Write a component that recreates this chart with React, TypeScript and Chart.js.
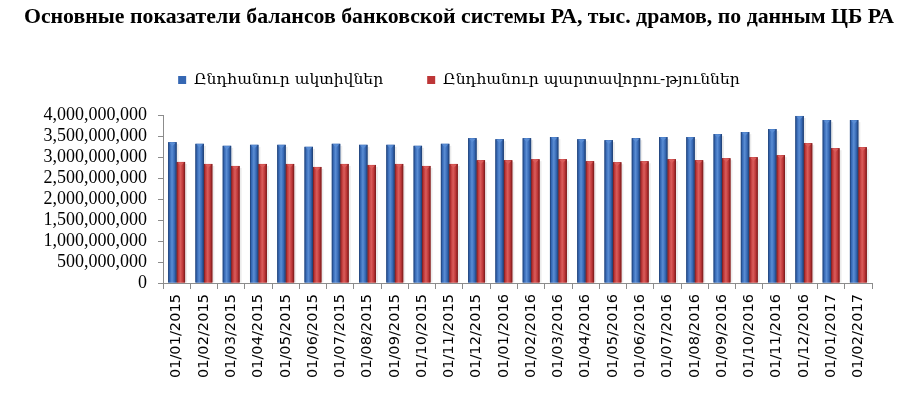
import React, { useEffect, useRef } from "react";
import { Chart, registerables } from "chart.js";

Chart.register(...registerables);

const categories = [
  "01/01/2015", "01/02/2015", "01/03/2015", "01/04/2015", "01/05/2015", "01/06/2015",
  "01/07/2015", "01/08/2015", "01/09/2015", "01/10/2015", "01/11/2015", "01/12/2015",
  "01/01/2016", "01/02/2016", "01/03/2016", "01/04/2016", "01/05/2016", "01/06/2016",
  "01/07/2016", "01/08/2016", "01/09/2016", "01/10/2016", "01/11/2016", "01/12/2016",
  "01/01/2017", "01/02/2017",
];

const totalAssets = [
  3369000000, 3328000000, 3280000000, 3304000000, 3304000000, 3256000000,
  3328000000, 3304000000, 3304000000, 3280000000, 3328000000, 3465000000,
  3440000000, 3465000000, 3489000000, 3440000000, 3417000000, 3465000000,
  3489000000, 3489000000, 3561000000, 3609000000, 3681000000, 3995000000,
  3897000000, 3897000000,
];

const totalLiabilities = [
  2896000000, 2848000000, 2800000000, 2848000000, 2848000000, 2776000000,
  2848000000, 2824000000, 2848000000, 2800000000, 2848000000, 2937000000,
  2937000000, 2961000000, 2961000000, 2913000000, 2889000000, 2913000000,
  2961000000, 2937000000, 2985000000, 3009000000, 3057000000, 3345000000,
  3225000000, 3249000000,
];

const seriesNames = ["Ընդհանուր ակտիվներ", "Ընդհանուր պարտավորու-թյուններ"];
const titleText = "Основные показатели балансов банковской системы РА, тыс. драмов, по данным ЦБ РА";
const yTicks = [0, 500000000, 1000000000, 1500000000, 2000000000, 2500000000, 3000000000, 3500000000, 4000000000];

const palettes = [
  { dark: "#1c3a6b", mid: "#3567b3", light: "#5a8dd4" },
  { dark: "#741818", mid: "#bd3637", light: "#da5d5b" },
];

const legendSpacing = {
  id: "legendSpacing",
  beforeInit(chart: any) {
    const legend = chart.legend;
    if (!legend) return;
    const fit = legend.fit;
    legend.fit = function () {
      fit.call(this);
      this.height = 87.6;
    };
  },
};

const barShading = {
  id: "barShading",
  afterDatasetsDraw(chart: any) {
    const ctx = chart.ctx;
    chart.data.datasets.forEach((_ds: any, di: number) => {
      const meta = chart.getDatasetMeta(di);
      const pal = palettes[di];
      meta.data.forEach((bar: any) => {
        const w = bar.width;
        const left = bar.x - w / 2;
        const top = bar.y;
        const bottom = bar.base;
        const g = ctx.createLinearGradient(left, 0, left + w, 0);
        g.addColorStop(0, pal.dark);
        g.addColorStop(0.18, pal.mid);
        g.addColorStop(0.45, pal.light);
        g.addColorStop(0.75, pal.mid);
        g.addColorStop(1, pal.dark);
        ctx.save();
        ctx.fillStyle = "rgba(0,0,0,0.08)";
        ctx.fillRect(left + w, top + 2, 2, bottom - top - 2);
        ctx.fillStyle = g;
        ctx.fillRect(left, top, w, bottom - top);
        ctx.fillStyle = pal.light;
        ctx.beginPath();
        ctx.moveTo(left + 1, top + 0.5);
        ctx.lineTo(left + w - 1, top + 0.5);
        ctx.lineTo(left + w / 2, top + 4);
        ctx.closePath();
        ctx.fill();
        ctx.restore();
      });
    });
  },
};

export default function App() {
  const canvasRef = useRef<HTMLCanvasElement | null>(null);

  useEffect(() => {
    if (!canvasRef.current) return;
    const chart = new Chart(canvasRef.current, {
      type: "bar",
      data: {
        labels: categories,
        datasets: [
          {
            label: seriesNames[0],
            data: totalAssets,
            backgroundColor: palettes[0].mid,
            borderWidth: 0,
            categoryPercentage: 0.62,
            barPercentage: 1.0,
          },
          {
            label: seriesNames[1],
            data: totalLiabilities,
            backgroundColor: palettes[1].mid,
            borderWidth: 0,
            categoryPercentage: 0.62,
            barPercentage: 1.0,
          },
        ],
      },
      options: {
        animation: false,
        responsive: false,
        maintainAspectRatio: false,
        layout: { padding: { left: 0, right: 0, top: 0, bottom: 0 } },
        plugins: {
          title: {
            display: true,
            text: titleText,
            color: "#000",
            font: { family: "'Liberation Serif', 'Times New Roman', serif", size: 21.8, weight: "bold" },
            padding: { top: 4, bottom: -2 },
          },
          legend: {
            display: true,
            position: "top",
            labels: {
              boxWidth: 8,
              boxHeight: 8,
              padding: 44,
              color: "#000",
              font: { family: "'DejaVu Serif', serif", size: 15.6 },
            },
          },
          tooltip: { enabled: false },
        },
        scales: {
          x: {
            afterFit(scale: any) {
              scale.height = 110;
            },
            grid: {
              offset: true,
              drawOnChartArea: false,
              drawTicks: true,
              tickLength: 6,
              color: "#8c8c8c",
            },
            border: { color: "#8c8c8c" },
            ticks: {
              minRotation: 90,
              maxRotation: 90,
              autoSkip: false,
              color: "#000",
              padding: 5,
              font: { family: "'DejaVu Sans', sans-serif", size: 14.6 },
            },
          },
          y: {
            min: 0,
            max: 4000000000,
            afterBuildTicks(scale: any) {
              scale.ticks = yTicks.map((v) => ({ value: v }));
            },
            afterFit(scale: any) {
              scale.width = 163;
            },
            grid: {
              drawOnChartArea: false,
              drawTicks: true,
              tickLength: 5,
              color: "#8c8c8c",
            },
            border: { color: "#8c8c8c" },
            ticks: {
              autoSkip: false,
              color: "#000",
              padding: 11,
              font: { family: "'Liberation Serif', 'Times New Roman', serif", size: 18 },
              callback: (v: any) => Number(v).toLocaleString("en-US"),
            },
          },
          yRightSpace: {
            position: "right",
            display: true,
            min: 0,
            max: 1,
            afterFit(scale: any) {
              scale.width = 46;
            },
            grid: { display: false, drawTicks: false },
            border: { display: false },
            ticks: { display: false },
          },
        },
      },
      plugins: [legendSpacing, barShading],
    });
    return () => chart.destroy();
  }, []);

  return (
    <div style={{ position: "fixed", left: 0, top: 0, width: 918, height: 393, background: "#fff" }}>
      <canvas ref={canvasRef} width={918} height={393} style={{ width: 918, height: 393 }} />
    </div>
  );
}
